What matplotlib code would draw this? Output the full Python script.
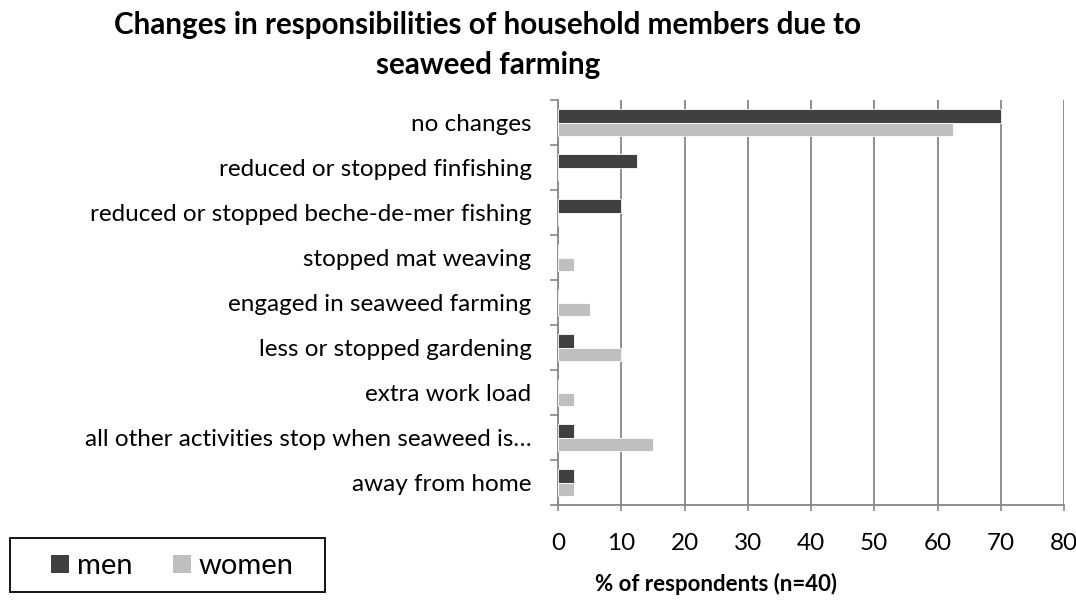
import matplotlib
matplotlib.use("Agg")
import matplotlib.pyplot as plt
import numpy as np
from matplotlib.patches import Rectangle

plt.rcParams['font.family'] = ['Lato', 'DejaVu Sans']

categories = [
    'no changes',
    'reduced or stopped finfishing',
    'reduced or stopped beche-de-mer fishing',
    'stopped mat weaving',
    'engaged in seaweed farming',
    'less or stopped gardening',
    'extra work load',
    'all other activities stop when seaweed is\u2026',
    'away from home',
]
men = [70, 12.5, 10, 0, 0, 2.5, 0, 2.5, 2.5]
women = [62.5, 0, 0, 2.5, 5, 10, 2.5, 15, 2.5]

men_color = '#404040'
women_color = '#bfbfbf'
grid_color = '#868686'

W, H = 1076, 605
fig = plt.figure(figsize=(W / 100, H / 100), dpi=100)
ax = fig.add_axes([558 / W, 1 - 505 / H, (1064 - 558) / W, 405 / H])

n = len(categories)
y = np.arange(n)[::-1]  # first category at the top
h = 0.29
ax.barh(y + h / 2, men, height=h, color=men_color, edgecolor='white', linewidth=0.6, zorder=3)
ax.barh(y - h / 2, women, height=h, color=women_color, edgecolor='white', linewidth=0.6, zorder=3)

ax.set_xlim(0, 80)
ax.set_ylim(-0.5, n - 0.5)
ax.set_xticks(np.arange(0, 81, 10))
ax.tick_params(axis='x', length=4, color=grid_color, width=1.2, labelsize=17.5, pad=16)
ax.xaxis.grid(True, color=grid_color, linewidth=1.3, zorder=0)

# category labels centred on each group, tick marks on the boundaries
ax.set_yticks(y)
ax.set_yticklabels(categories, fontsize=17.5)
ax.tick_params(axis='y', length=0, pad=19)
ax.set_yticks(np.arange(-0.5, n, 1), minor=True)
ax.tick_params(axis='y', which='minor', length=6, color=grid_color, width=1.2)

for side in ['top', 'right']:
    ax.spines[side].set_visible(False)
for side in ['left', 'bottom']:
    ax.spines[side].set_color(grid_color)
    ax.spines[side].set_linewidth(1.3)

fig.text(488 / W, 1 - 34 / H, 'Changes in responsibilities of household members due to',
         ha='center', va='baseline', fontsize=21.3, fontweight='bold')
fig.text(488 / W, 1 - 74 / H, 'seaweed farming',
         ha='center', va='baseline', fontsize=21.3, fontweight='bold')
fig.text(716 / W, 1 - 591 / H, '% of respondents (n=40)',
         ha='center', va='baseline', fontsize=16, fontweight='bold')

# legend box below the category labels
fig.patches.append(Rectangle((10 / W, 1 - 592 / H), 315 / W, 54 / H, transform=fig.transFigure,
                             facecolor='white', edgecolor='black', linewidth=1.3))
for x0, color, label in [(51, men_color, 'men'), (173, women_color, 'women')]:
    fig.patches.append(Rectangle((x0 / W, 1 - 573 / H), 18 / W, 18 / H, transform=fig.transFigure,
                                 facecolor=color, edgecolor='none'))
    fig.text((x0 + 26) / W, 1 - 564 / H, label, ha='left', va='center_baseline', fontsize=21)

fig.savefig('out.png', dpi=100)
